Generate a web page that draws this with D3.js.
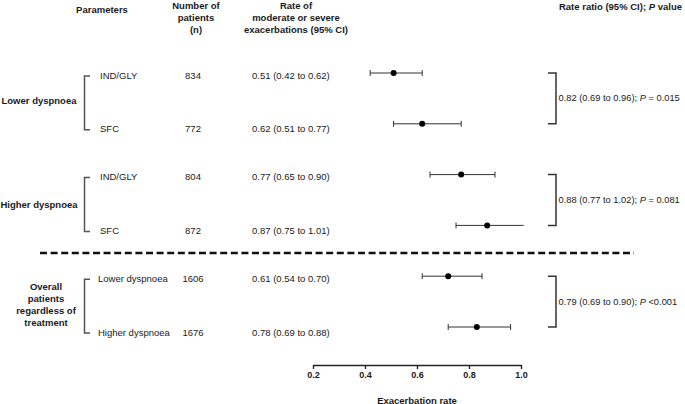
<!DOCTYPE html>
<html>
<head>
<meta charset="utf-8">
<script src="https://cdn.jsdelivr.net/npm/d3@7/dist/d3.min.js"></script>
<style>
  html, body { margin: 0; padding: 0; background: #fff; }
  svg { display: block; font-family: "Liberation Sans", Arial, sans-serif; }
</style>
</head>
<body>
<svg id="chart" width="685" height="404"></svg>
<script>
// ---------- data ----------
const groups = ["Lower dyspnoea", "Higher dyspnoea", "Overall patients regardless of treatment"];
const subgroups = ["IND/GLY", "SFC", "IND/GLY", "SFC", "Lower dyspnoea", "Higher dyspnoea"];
const patients = [834, 772, 804, 872, 1606, 1676];
const rateLabels = ["0.51 (0.42 to 0.62)", "0.62 (0.51 to 0.77)", "0.77 (0.65 to 0.90)",
                    "0.87 (0.75 to 1.01)", "0.61 (0.54 to 0.70)", "0.78 (0.69 to 0.88)"];
// plotted estimates and CIs as drawn in the figure
const estimate = [0.51, 0.62, 0.77, 0.87, 0.72, 0.83];
const ciLow    = [0.42, 0.51, 0.65, 0.75, 0.62, 0.72];
const ciHigh   = [0.62, 0.77, 0.90, 1.01, 0.85, 0.96];
const ratioText = [
  ["0.82 (0.69 to 0.96); ", "P", " = 0.015"],
  ["0.88 (0.77 to 1.02); ", "P", " = 0.081"],
  ["0.79 (0.69 to 0.90); ", "P", " <0.001"]
];
const xTicks = [0.2, 0.4, 0.6, 0.8, 1.0];
const groupLabelLines = [["Lower dyspnoea"], ["Higher dyspnoea"], ["Overall", "patients", "regardless of", "treatment"]];

// ---------- layout ----------
const svg = d3.select("#chart");
const x = d3.scaleLinear().domain([0.2, 1.0]).range([313, 521]);
const y = d3.scaleLinear().domain([0, 5]).range([73, 327]);
const ink = "#1a1a1a";
const fs = 9.5;

// headers
function multiText(lines, cx, cy0, lh, bold, anchor) {
  const t = svg.append("text")
    .attr("x", cx).attr("y", cy0)
    .attr("text-anchor", anchor || "middle")
    .attr("font-size", fs).attr("font-weight", bold ? "bold" : "normal")
    .attr("fill", ink).attr("dominant-baseline", "central");
  lines.forEach((l, i) => t.append("tspan").attr("x", cx).attr("dy", i === 0 ? 0 : lh).text(l));
  return t;
}
multiText(["Parameters"], 102, 9, 12, true);
multiText(["Number of", "patients", "(n)"], 196, 5, 12, true);
multiText(["Rate of", "moderate or severe", "exacerbations (95% CI)"], 296, 5, 12, true);
const hdr = svg.append("text").attr("x", 682).attr("y", 6).attr("text-anchor", "end")
  .attr("font-size", fs).attr("font-weight", "bold").attr("fill", ink)
  .attr("dominant-baseline", "central");
hdr.append("tspan").text("Rate ratio (95% CI); ");
hdr.append("tspan").attr("font-style", "italic").text("P");
hdr.append("tspan").text(" value");

// rows
const rows = d3.range(subgroups.length);
const textY = i => y(i) + (i % 2 === 0 ? 2 : 5);

svg.selectAll("text.sub").data(rows).join("text").attr("class", "sub")
  .attr("x", d => d >= 4 ? 98 : 100).attr("y", textY)
  .attr("font-size", fs).attr("fill", ink).attr("dominant-baseline", "central")
  .text(d => subgroups[d]);
svg.selectAll("text.n").data(rows).join("text").attr("class", "n")
  .attr("x", 193).attr("y", textY).attr("text-anchor", "middle")
  .attr("font-size", fs).attr("fill", ink).attr("dominant-baseline", "central")
  .text(d => patients[d]);
svg.selectAll("text.rate").data(rows).join("text").attr("class", "rate")
  .attr("x", 252).attr("y", textY)
  .attr("font-size", fs).attr("fill", ink).attr("dominant-baseline", "central")
  .text(d => rateLabels[d]);

// group labels + left brackets + right brackets
groups.forEach((g, gi) => {
  const a = gi * 2, b = gi * 2 + 1;
  const mid = (y(a) + y(b)) / 2;
  const lines = groupLabelLines[gi];
  const lh = 12;
  const cx = gi === 2 ? 46 : 39;
  multiText(lines, cx, mid + 2 - (lines.length - 1) * lh / 2 + (gi === 1 ? 2 : 0), lh, true);

  const top = textY(a) + 1, bot = textY(b) + 1;
  svg.append("path")
    .attr("d", `M90,${top}H84.5V${bot}H90`)
    .attr("fill", "none").attr("stroke", "#555").attr("stroke-width", 1.5);

  const rt = y(a), rb = y(b);
  svg.append("path")
    .attr("d", `M548,${rt}H556V${rb}H548`)
    .attr("fill", "none").attr("stroke", "#333").attr("stroke-width", 1.5);
  const rtx = svg.append("text").attr("x", 558.5).attr("y", mid)
    .attr("font-size", 9.3).attr("fill", ink).attr("dominant-baseline", "central");
  rtx.append("tspan").text(ratioText[gi][0]);
  rtx.append("tspan").attr("font-style", "italic").text(ratioText[gi][1]);
  rtx.append("tspan").text(ratioText[gi][2]);
});

// dashed separator
svg.append("line").attr("x1", 40).attr("x2", 634).attr("y1", 253).attr("y2", 253)
  .attr("stroke", "#111").attr("stroke-width", 2.3).attr("stroke-dasharray", "7,3.6");

// error bars
const eb = svg.append("g");
eb.selectAll("line.ci").data(rows).join("line").attr("class", "ci")
  .attr("x1", d => x(ciLow[d])).attr("x2", d => x(ciHigh[d]))
  .attr("y1", d => y(d)).attr("y2", d => y(d))
  .attr("stroke", "#333").attr("stroke-width", 1);
eb.selectAll("line.capl").data(rows).join("line").attr("class", "capl")
  .attr("x1", d => x(ciLow[d])).attr("x2", d => x(ciLow[d]))
  .attr("y1", d => y(d) - 3).attr("y2", d => y(d) + 3)
  .attr("stroke", "#333").attr("stroke-width", 1);
eb.selectAll("line.caph").data(rows.filter(d => ciHigh[d] <= 1.0)).join("line").attr("class", "caph")
  .attr("x1", d => x(ciHigh[d])).attr("x2", d => x(ciHigh[d]))
  .attr("y1", d => y(d) - 3).attr("y2", d => y(d) + 3)
  .attr("stroke", "#333").attr("stroke-width", 1);
eb.selectAll("circle").data(rows).join("circle")
  .attr("cx", d => x(estimate[d])).attr("cy", d => y(d)).attr("r", 3)
  .attr("fill", "#000");

// axis
const axis = d3.axisBottom(x).tickValues(xTicks).tickFormat(d3.format(".1f"))
  .tickSize(4).tickSizeOuter(0).tickPadding(3);
const ag = svg.append("g").attr("transform", "translate(0,365)").call(axis);
ag.select(".domain").attr("stroke", "#222").attr("stroke-width", 1.6);
ag.selectAll(".tick line").attr("stroke", "#222").attr("stroke-width", 1.4);
ag.selectAll(".tick text").attr("font-size", 9).attr("font-weight", "bold")
  .attr("fill", ink).attr("font-family", "Liberation Sans, Arial, sans-serif");

svg.append("text").attr("x", 417).attr("y", 400).attr("text-anchor", "middle")
  .attr("font-size", fs).attr("font-weight", "bold").attr("fill", ink)
  .attr("dominant-baseline", "central").text("Exacerbation rate");
</script>
</body>
</html>
